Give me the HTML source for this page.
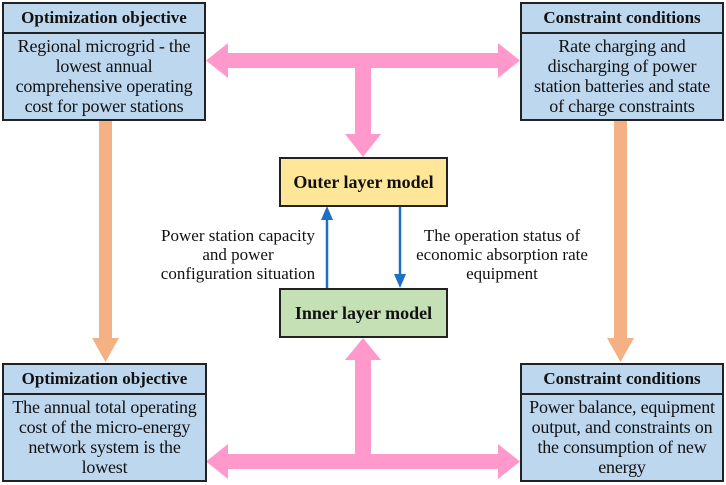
<!DOCTYPE html>
<html><head><style>
body{margin:0;width:726px;height:485px;background:#fff;position:relative;overflow:hidden;font-family:"Liberation Serif",serif;}
.b{position:absolute;box-sizing:border-box;border:2px solid #222;text-align:center;color:#111;}
.h{background:#bdd7ee;font-weight:bold;font-size:17px;line-height:27px;}
.t{background:#bdd7ee;font-size:18px;line-height:20px;padding:2px 4px 0;letter-spacing:-0.2px;}
.m{font-weight:bold;font-size:18px;line-height:46px;}
.lbl{position:absolute;font-size:17px;line-height:19px;text-align:center;color:#111;}
</style></head><body>
<svg width="726" height="485" style="position:absolute;left:0;top:0">
<g fill="#f4b183">
<rect x="99" y="120" width="13" height="220"/><polygon points="92,338 119,338 105.5,362"/>
<rect x="614" y="120" width="13" height="220"/><polygon points="607,338 634,338 620.5,362"/>
</g>
<g fill="#ff99cc">
<rect x="225" y="53" width="276" height="15"/>
<polygon points="206,60.5 228,43 228,78"/><polygon points="520,60.5 498,43 498,78"/>
<rect x="355" y="60" width="16" height="76"/><polygon points="345,134 381,134 363,157"/>
<rect x="225" y="454" width="276" height="15"/>
<polygon points="206,461.5 228,444 228,479"/><polygon points="520,461.5 498,444 498,479"/>
<rect x="355" y="358" width="16" height="100"/><polygon points="345,360 381,360 363,338"/>
</g>
<g stroke="#1f6fc5" stroke-width="2.5" fill="#1f6fc5">
<line x1="327" y1="288" x2="327" y2="218"/><polygon points="321,220 333,220 327,206" stroke="none"/>
<line x1="400" y1="206" x2="400" y2="276"/><polygon points="394,274 406,274 400,288" stroke="none"/>
</g>
</svg>
<div class="b h" style="left:2px;top:2px;width:204px;height:32px">Optimization objective</div>
<div class="b t" style="left:2px;top:32px;width:204px;height:89px">Regional microgrid - the lowest annual comprehensive operating cost for power stations</div>
<div class="b h" style="left:520px;top:2px;width:204px;height:32px">Constraint conditions</div>
<div class="b t" style="left:520px;top:32px;width:204px;height:89px">Rate charging and discharging of power station batteries and state of charge constraints</div>
<div class="b h" style="left:2px;top:363px;width:205px;height:32px">Optimization objective</div>
<div class="b t" style="left:2px;top:393px;width:205px;height:89px">The annual total operating cost of the micro-energy network system is the lowest</div>
<div class="b h" style="left:520px;top:363px;width:204px;height:32px">Constraint conditions</div>
<div class="b t" style="left:520px;top:393px;width:204px;height:89px">Power balance, equipment output, and constraints on the consumption of new energy</div>
<div class="b m" style="left:279px;top:157px;width:169px;height:50px;background:#ffe699">Outer layer model</div>
<div class="b m" style="left:279px;top:288px;width:169px;height:50px;background:#c5e0b4">Inner layer model</div>
<div class="lbl" style="left:148px;top:226px;width:180px">Power station capacity<br>and power<br>configuration situation</div>
<div class="lbl" style="left:404px;top:226px;width:196px">The operation status of<br>economic absorption rate<br>equipment</div>
</body></html>
